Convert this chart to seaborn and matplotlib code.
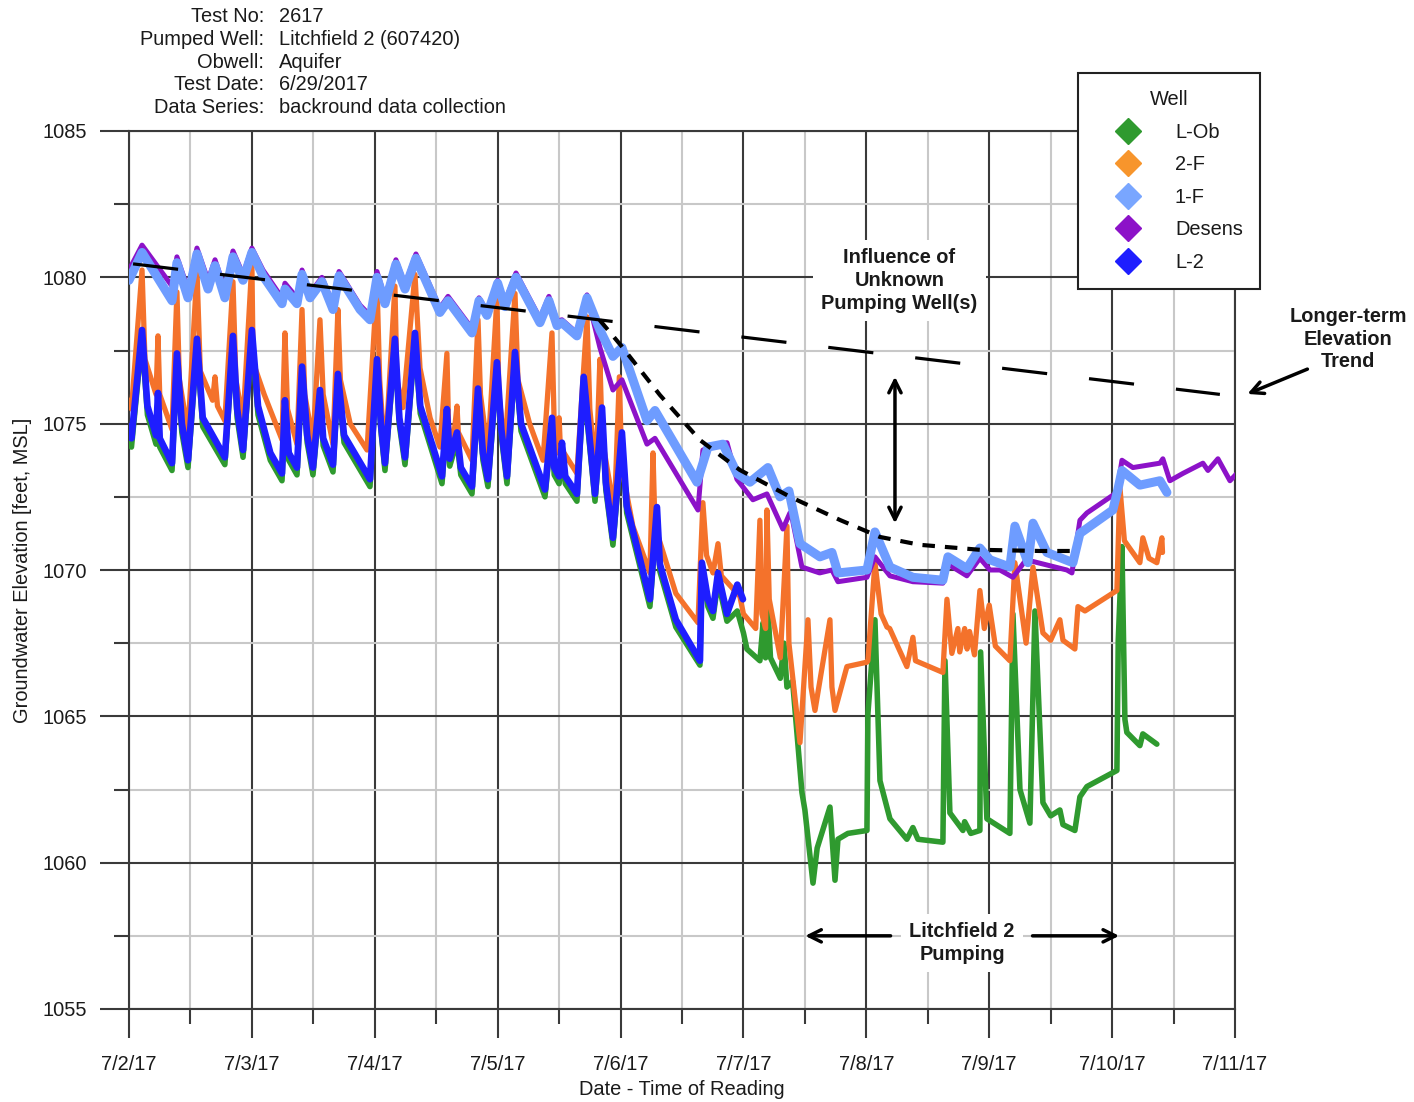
import matplotlib
matplotlib.use("Agg")
import matplotlib.pyplot as plt
from matplotlib.lines import Line2D
import numpy as np
import pandas as pd
import seaborn as sns

# ---------------- data (time in days after 7/2/17 00:00, elevation ft MSL) -------------
date_labels = ["7/2/17", "7/3/17", "7/4/17", "7/5/17", "7/6/17", "7/7/17",
               "7/8/17", "7/9/17", "7/10/17", "7/11/17"]
wells = ["L-Ob", "2-F", "1-F", "Desens", "L-2"]

l2_t = [0.00, 0.02, 0.106, 0.15, 0.22, 0.236, 0.25, 0.35, 0.39, 0.43, 0.48, 0.553, 0.60, 0.78, 0.846, 0.88, 0.928,
        1.00, 1.05, 1.15, 1.245, 1.269, 1.30, 1.367, 1.408, 1.45, 1.497, 1.554, 1.58, 1.66, 1.70, 1.75, 1.961,
        2.018, 2.05, 2.083, 2.164, 2.20, 2.246, 2.327, 2.37, 2.547, 2.587, 2.61, 2.669, 2.70, 2.791, 2.84, 2.88,
        2.921, 2.994, 3.03, 3.076, 3.141, 3.19, 3.385, 3.442, 3.46, 3.50, 3.523, 3.55, 3.645, 3.70, 3.76, 3.792,
        3.849, 3.88, 3.938, 4.011, 4.05, 4.239, 4.296, 4.32, 4.45, 4.646, 4.662, 4.711, 4.752, 4.793, 4.866,
        4.95, 4.996]
l2_v = [1074.9, 1074.5, 1078.2, 1075.6, 1074.6, 1076.05, 1074.5, 1073.65, 1077.4, 1075.0, 1073.75, 1077.9, 1075.2,
        1073.85, 1078.0, 1075.5, 1074.1, 1078.2, 1075.6, 1074.0, 1073.3, 1075.8, 1074.0, 1073.5, 1076.95, 1074.6,
        1073.5, 1076.15, 1074.5, 1073.6, 1076.7, 1074.6, 1073.1, 1077.2, 1075.0, 1073.65, 1077.9, 1075.2, 1073.85,
        1078.1, 1075.6, 1073.2, 1075.5, 1073.8, 1074.7, 1073.5, 1072.85, 1076.2, 1074.0, 1073.1, 1077.1, 1074.8,
        1073.2, 1077.45, 1075.0, 1072.75, 1075.2, 1073.5, 1073.2, 1074.35, 1073.2, 1072.6, 1076.6, 1074.0, 1072.6,
        1075.55, 1073.0, 1071.1, 1074.7, 1072.2, 1069.0, 1072.15, 1070.2, 1068.3, 1066.9, 1070.25, 1069.0, 1068.6,
        1069.9, 1068.5, 1069.5, 1069.0]

lob_t = l2_t[:-1] + [5.0, 5.028, 5.134, 5.16, 5.18, 5.199, 5.22, 5.30, 5.33, 5.354, 5.40, 5.476, 5.50, 5.566,
                     5.60, 5.704, 5.745, 5.769, 5.85, 6.005, 6.013, 6.07, 6.111, 6.192, 6.33, 6.379, 6.42, 6.623,
                     6.64, 6.68, 6.786, 6.80, 6.85, 6.924, 6.93, 6.981, 7.168, 7.193, 7.25, 7.331, 7.372, 7.437,
                     7.50, 7.575, 7.60, 7.697, 7.738, 7.795, 8.039, 8.05, 8.08, 8.104, 8.12, 8.226, 8.25, 8.364]
lob_v = [1074.3, 1074.2, 1077.9, 1075.3, 1074.3, 1075.8, 1074.2, 1073.4, 1077.1, 1074.7, 1073.5, 1077.6, 1074.9,
         1073.6, 1077.7, 1075.2, 1073.85, 1077.9, 1075.3, 1073.75, 1073.05, 1075.5, 1073.75, 1073.25, 1076.65,
         1074.35, 1073.25, 1075.85, 1074.25, 1073.35, 1076.4, 1074.35, 1072.85, 1076.9, 1074.75, 1073.4, 1077.6,
         1074.95, 1073.6, 1077.8, 1075.35, 1072.95, 1075.2, 1073.55, 1074.4, 1073.25, 1072.6, 1075.9, 1073.75,
         1072.85, 1076.8, 1074.55, 1072.95, 1077.15, 1074.75, 1072.5, 1074.9, 1073.25, 1072.95, 1074.05, 1072.95,
         1072.35, 1076.3, 1073.75, 1072.35, 1075.25, 1072.75, 1070.85, 1074.4, 1071.95, 1068.75, 1071.85, 1069.95,
         1068.05, 1066.75, 1070.0, 1068.75, 1068.35, 1069.6, 1068.25, 1068.6,
         1067.85, 1067.3, 1066.9, 1068.2, 1067.0, 1068.75, 1067.0, 1066.3, 1067.5, 1066.0, 1066.2, 1062.4, 1061.8,
         1059.3, 1060.5, 1061.9, 1059.4, 1060.8, 1061.0, 1061.1, 1065.1, 1068.3, 1062.8, 1061.5, 1060.8, 1061.2,
         1060.8, 1060.7, 1066.9, 1061.7, 1061.1, 1061.4, 1061.0, 1061.1, 1067.2, 1061.5, 1061.0, 1068.5, 1062.5,
         1061.35, 1068.6, 1062.05, 1061.6, 1061.8, 1061.3, 1061.1, 1062.25, 1062.6, 1063.15, 1067.6, 1070.8,
         1064.9, 1064.45, 1064.0, 1064.4, 1064.05]

f2_t = [0.0, 0.02, 0.106, 0.13, 0.22, 0.236, 0.25, 0.35, 0.39, 0.41, 0.48, 0.553, 0.58, 0.68, 0.70, 0.72, 0.78,
        0.846, 0.87, 0.928, 1.0, 1.01, 1.10, 1.245, 1.269, 1.29, 1.367, 1.408, 1.43, 1.497, 1.554, 1.58, 1.66,
        1.70, 1.72, 1.80, 1.937, 2.018, 2.04, 2.083, 2.164, 2.18, 2.229, 2.327, 2.368, 2.45, 2.53, 2.587, 2.60,
        2.628, 2.669, 2.68, 2.791, 2.84, 2.86, 2.921, 2.994, 3.01, 3.059, 3.141, 3.165, 3.26, 3.369, 3.442, 3.46,
        3.49, 3.50, 3.51, 3.645, 3.727, 3.75, 3.80, 3.832, 3.85, 3.95, 3.99, 4.01, 4.10, 4.239, 4.264, 4.28, 4.45,
        4.63, 4.67, 4.70, 4.752, 4.793, 4.82, 4.971, 5.0, 5.10, 5.134, 5.15, 5.18, 5.191, 5.21, 5.30, 5.354, 5.37,
        5.46, 5.525, 5.55, 5.582, 5.704, 5.72, 5.745, 5.842, 6.005, 6.013, 6.07, 6.12, 6.168, 6.19, 6.33, 6.379,
        6.40, 6.623, 6.656, 6.696, 6.745, 6.76, 6.80, 6.82, 6.84, 6.88, 6.924, 6.96, 7.0, 7.05, 7.168, 7.209, 7.30,
        7.356, 7.437, 7.50, 7.575, 7.60, 7.697, 7.722, 7.779, 8.039, 8.063, 8.10, 8.226, 8.25, 8.30, 8.364, 8.405,
        8.41]
f2_v = [1075.8, 1075.5, 1080.25, 1077.2, 1076.0, 1078.0, 1076.0, 1074.8, 1079.5, 1076.5, 1074.7, 1080.25, 1076.8,
        1075.8, 1076.6, 1075.6, 1075.1, 1079.85, 1076.5, 1075.1, 1080.5, 1077.1, 1076.0, 1074.45, 1078.1, 1075.5,
        1074.3, 1078.9, 1076.0, 1074.4, 1078.55, 1076.0, 1074.3, 1078.9, 1076.5, 1075.0, 1074.1, 1079.8, 1076.5,
        1073.8, 1079.7, 1076.5, 1075.55, 1080.1, 1076.9, 1075.2, 1074.2, 1077.4, 1075.0, 1074.0, 1075.6, 1074.7,
        1073.75, 1078.55, 1076.0, 1074.0, 1079.3, 1076.0, 1074.1, 1079.45, 1076.5, 1075.0, 1073.75, 1078.1, 1075.0,
        1074.0, 1075.2, 1074.2, 1073.3, 1078.65, 1075.5, 1073.3, 1077.2, 1074.5, 1072.0, 1076.6, 1073.5, 1071.5,
        1069.9, 1074.0, 1071.5, 1069.2, 1068.2, 1072.3, 1070.5, 1069.9, 1070.9, 1069.8, 1069.1, 1068.5, 1068.0,
        1071.7, 1068.5, 1068.0, 1072.05, 1069.0, 1067.0, 1071.5, 1067.5, 1064.1, 1068.3, 1066.0, 1065.2, 1068.3,
        1066.0, 1065.2, 1066.7, 1066.85, 1066.9, 1070.25, 1068.5, 1068.05, 1068.0, 1066.7, 1067.7, 1066.9, 1066.5,
        1069.0, 1067.15, 1068.0, 1067.2, 1068.0, 1067.3, 1067.9, 1067.1, 1069.3, 1068.0, 1068.8, 1067.4, 1066.9,
        1070.25, 1067.5, 1070.1, 1067.85, 1067.6, 1068.3, 1067.6, 1067.3, 1068.75, 1068.6, 1069.3, 1072.85, 1071.0,
        1070.25, 1071.1, 1070.4, 1070.25, 1071.1, 1070.6]

f1_t = [0.0, 0.106, 0.35, 0.39, 0.48, 0.553, 0.643, 0.70, 0.78, 0.846, 0.928, 1.0, 1.09, 1.245, 1.269, 1.367,
        1.408, 1.473, 1.57, 1.66, 1.709, 1.88, 1.961, 2.018, 2.083, 2.172, 2.246, 2.335, 2.53, 2.596, 2.791, 2.848,
        2.913, 3.0, 3.059, 3.149, 3.344, 3.417, 3.483, 3.523, 3.645, 3.727, 3.832, 3.938, 4.011, 4.215, 4.28, 4.622,
        4.711, 4.833, 4.947, 5.053, 5.199, 5.297, 5.37, 5.46, 5.622, 5.72, 5.769, 6.005, 6.07, 6.192, 6.379, 6.623,
        6.664, 6.818, 6.924, 7.006, 7.168, 7.209, 7.315, 7.356, 7.469, 7.681, 7.738, 8.006, 8.047, 8.08, 8.226,
        8.389, 8.446]
f1_v = [1079.9, 1080.85, 1079.2, 1080.5, 1079.3, 1080.8, 1079.6, 1080.4, 1079.3, 1080.7, 1079.9, 1080.85, 1080.05,
        1079.1, 1079.6, 1079.1, 1080.1, 1079.3, 1079.85, 1078.9, 1080.05, 1078.9, 1078.55, 1080.0, 1079.1, 1080.45,
        1079.6, 1080.65, 1078.8, 1079.2, 1078.1, 1079.2, 1078.7, 1079.8, 1079.0, 1080.0, 1078.45, 1079.2, 1078.35,
        1078.45, 1078.0, 1079.3, 1078.2, 1077.3, 1077.6, 1075.1, 1075.45, 1073.0, 1074.2, 1074.3, 1073.3, 1073.0,
        1073.5, 1072.5, 1072.7, 1070.9, 1070.45, 1070.6, 1069.9, 1070.0, 1071.3, 1070.1, 1069.75, 1069.65, 1070.45,
        1070.05, 1070.75, 1070.35, 1070.1, 1071.5, 1070.25, 1071.6, 1070.6, 1070.25, 1071.25, 1072.05, 1072.75,
        1073.4, 1072.9, 1073.05, 1072.65]

des_t = [0.0, 0.106, 0.35, 0.39, 0.48, 0.553, 0.643, 0.70, 0.78, 0.846, 0.928, 1.0, 1.09, 1.245, 1.269, 1.367,
         1.408, 1.473, 1.57, 1.66, 1.709, 1.88, 1.961, 2.018, 2.083, 2.172, 2.246, 2.335, 2.53, 2.596, 2.791, 2.848,
         2.913, 3.0, 3.059, 3.149, 3.344, 3.417, 3.483, 3.523, 3.645, 3.727, 3.832, 3.938, 4.011, 4.215, 4.28, 4.63,
         4.67, 4.866, 4.947, 5.077, 5.191, 5.321, 5.378, 5.395, 5.476, 5.62, 5.72, 5.769, 6.005, 6.07, 6.192, 6.379,
         6.623, 6.664, 6.818, 6.924, 7.006, 7.087, 7.193, 7.3, 7.632, 7.673, 7.738, 7.795, 8.039, 8.08, 8.169,
         8.389, 8.413, 8.47, 8.576, 8.739, 8.78, 8.861, 8.959, 9.016]
des_v = [1080.25, 1081.1, 1079.7, 1080.7, 1079.6, 1081.0, 1079.9, 1080.6, 1079.6, 1080.9, 1080.1, 1081.0, 1080.25,
         1079.3, 1079.8, 1079.3, 1080.25, 1079.45, 1080.0, 1079.1, 1080.2, 1079.05, 1078.7, 1080.2, 1079.3, 1080.6,
         1079.75, 1080.8, 1078.95, 1079.35, 1078.25, 1079.3, 1078.85, 1079.9, 1079.15, 1080.15, 1078.6, 1079.35,
         1078.5, 1078.55, 1078.1, 1079.4, 1077.6, 1076.15, 1076.5, 1074.3, 1074.5, 1072.05, 1074.1, 1074.35, 1073.1,
         1072.4, 1072.6, 1071.4, 1071.95, 1071.8, 1070.1, 1069.9, 1070.0, 1069.6, 1069.75, 1070.45, 1069.8, 1069.6,
         1069.55, 1070.2, 1069.8, 1070.4, 1070.0, 1070.0, 1069.75, 1070.35, 1070.0, 1069.9, 1071.7, 1071.95, 1072.65,
         1073.75, 1073.5, 1073.65, 1073.8, 1073.05, 1073.3, 1073.65, 1073.4, 1073.8, 1073.05, 1073.3]

trend_t = [0.033, 8.877]
trend_v = [1080.46, 1076.0]
infl_t = [3.83, 4.0, 4.32, 4.646, 4.97, 5.38, 5.785, 6.11, 6.436, 6.924, 7.41, 7.70]
infl_v = [1078.54, 1077.69, 1075.98, 1074.44, 1073.42, 1072.5, 1071.71, 1071.13, 1070.86, 1070.69, 1070.65, 1070.65]

header_keys = ["Test No:", "Pumped Well:", "Obwell:", "Test Date:", "Data Series:"]
header_vals = ["2617", "Litchfield 2 (607420)", "Aquifer", "6/29/2017", "backround data collection"]

# ---------------- style ----------------
sns.set_style("white")
plt.rcParams["font.family"] = ["Liberation Sans", "DejaVu Sans"]
FS = 14.4
TXT = "#1a1a1a"

colors = {"L-Ob": "#2f9a2f", "2-F": "#f4722b", "1-F": "#6e9cff", "Desens": "#8c12c8", "L-2": "#1e1eff"}
legend_colors = {"L-Ob": "#2f9a2f", "2-F": "#f7952c", "1-F": "#79a6ff", "Desens": "#8c12c8", "L-2": "#1e1eff"}
widths = {"L-Ob": 4.0, "2-F": 3.8, "1-F": 6.5, "Desens": 3.6, "L-2": 4.8}

series = {"L-Ob": (lob_t, lob_v), "2-F": (f2_t, f2_v), "Desens": (des_t, des_v),
          "1-F": (f1_t, f1_v), "L-2": (l2_t, l2_v)}

fig = plt.figure(figsize=(14.14, 11.02), dpi=100)
ax = fig.add_axes([129 / 1414, 1 - 1009 / 1102, (1235 - 129) / 1414, (1009 - 131) / 1102])

for name in ["L-Ob", "2-F", "Desens", "1-F", "L-2"]:
    t, v = series[name]
    df = pd.DataFrame({"t": t, "v": v})
    sns.lineplot(data=df, x="t", y="v", ax=ax, color=colors[name], linewidth=widths[name],
                 estimator=None, sort=False, solid_joinstyle="round", solid_capstyle="round", zorder=3)

# trend lines
ax.plot(trend_t, trend_v, color="black", lw=2.3, dashes=(14.2, 13.2), zorder=5)
ax.plot(infl_t, infl_v, color="black", lw=3.0, dashes=(3.0, 2.4), zorder=5)

ax.set_xlim(0, 9)
ax.set_ylim(1055, 1085)
ax.set_xticks(np.arange(0, 10, 1))
ax.set_xticklabels(date_labels)
ax.set_xticks(np.arange(0.5, 9, 1), minor=True)
ax.set_yticks(np.arange(1055, 1086, 5))
ax.set_yticks(np.arange(1057.5, 1085, 5), minor=True)

ax.set_axisbelow(True)
ax.grid(which="major", color="#3a3a3a", lw=1.5, zorder=0)
ax.grid(which="minor", color="#c8c8c8", lw=1.5, zorder=0)
for s in ax.spines.values():
    s.set_color("#3a3a3a")
    s.set_linewidth(1.5)
ax.tick_params(axis="both", which="both", bottom=True, left=True, top=False, right=False)
ax.tick_params(axis="x", which="major", direction="out", length=21, width=1.5, color="#3a3a3a",
               labelsize=FS, labelcolor=TXT, pad=12)
ax.tick_params(axis="y", which="major", direction="out", length=21, width=1.5, color="#3a3a3a",
               labelsize=FS, labelcolor=TXT, pad=9)
ax.tick_params(axis="both", which="minor", direction="out", length=10.5, width=1.5, color="#3a3a3a")

ax.set_xlabel("Date - Time of Reading", fontsize=FS, color=TXT)
ax.set_ylabel("Groundwater Elevation [feet, MSL]", fontsize=FS, color=TXT)
ax.xaxis.set_label_coords(0.5, -0.0814)
ax.yaxis.set_label_coords(-0.088, 0.5)

# annotations
ax.text(6.27, 1079.9, "Influence of\nUnknown\nPumping Well(s)", ha="center", va="center", fontsize=FS,
        fontweight="bold", color=TXT, linespacing=1.25, zorder=6,
        bbox=dict(facecolor="white", edgecolor="none", pad=6))
ax.annotate("", xy=(6.233, 1071.5), xytext=(6.233, 1076.7),
            arrowprops=dict(arrowstyle="<->", color="black", lw=2.5, mutation_scale=22), zorder=6)
ax.text(6.78, 1057.25, "Litchfield 2\nPumping", ha="center", va="center", fontsize=FS, fontweight="bold",
        color=TXT, linespacing=1.25, zorder=6, bbox=dict(facecolor="white", edgecolor="none", pad=6))
ax.annotate("", xy=(5.48, 1057.5), xytext=(6.22, 1057.5),
            arrowprops=dict(arrowstyle="->", color="black", lw=2.5, mutation_scale=22), zorder=6)
ax.annotate("", xy=(8.08, 1057.5), xytext=(7.33, 1057.5),
            arrowprops=dict(arrowstyle="->", color="black", lw=2.5, mutation_scale=22), zorder=6)
ax.text(9.92, 1077.89, "Longer-term\nElevation\nTrend", ha="center", va="center", fontsize=FS,
        fontweight="bold", color=TXT, linespacing=1.25, clip_on=False)
ax.annotate("", xy=(9.08, 1075.98), xytext=(9.61, 1076.9), annotation_clip=False,
            arrowprops=dict(arrowstyle="->", color="black", lw=2.5, mutation_scale=22))

# header
for i, (k, val) in enumerate(zip(header_keys, header_vals)):
    y = 1 - (16.5 + 22.8 * i) / 1102
    fig.text(264 / 1414, y, k, ha="right", va="center", fontsize=FS, color=TXT)
    fig.text(279 / 1414, y, val, ha="left", va="center", fontsize=FS, color=TXT)

# legend
handles = [Line2D([], [], ls="none", marker="D", markersize=13, markerfacecolor=legend_colors[w],
                  markeredgecolor=legend_colors[w]) for w in wells]
leg = fig.legend(handles, wells, title="Well", loc="upper left",
                 bbox_to_anchor=(1078 / 1414, 1 - 73 / 1102), frameon=True, fancybox=False,
                 edgecolor="#222222", framealpha=1, fontsize=FS, title_fontsize=FS, borderpad=0.85,
                 labelspacing=0.68, handlelength=3.3, handletextpad=0.7, borderaxespad=0)
leg.get_frame().set_linewidth(1.5)
for txt in leg.get_texts():
    txt.set_color(TXT)
leg.get_title().set_color(TXT)

fig.savefig("out.png", dpi=100)
